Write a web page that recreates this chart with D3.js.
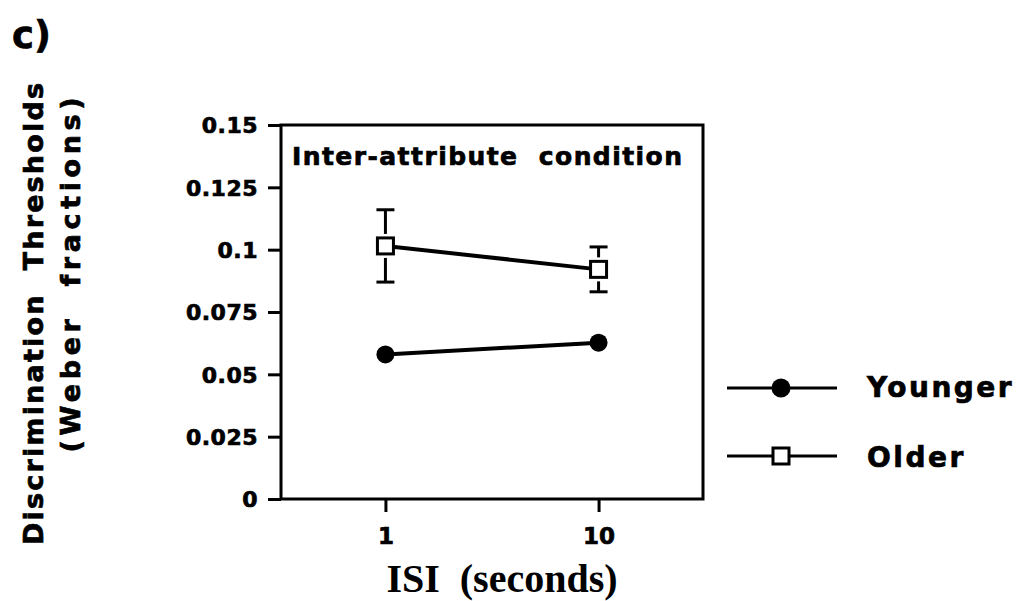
<!DOCTYPE html>
<html>
<head>
<meta charset="utf-8">
<script src="https://cdn.jsdelivr.net/npm/d3@7"></script>
<style>
  html, body { margin: 0; padding: 0; background: #fff; }
  svg { display: block; }
  text { fill: #000; }
  .heavy { stroke: #000; stroke-width: 0.7px; }
</style>
</head>
<body>
<svg id="chart" width="1019" height="601"></svg>
<script>
// ---- data ----
const isiLabels = ["1", "10"];
const youngerValues = [0.058, 0.0627];
const olderValues = [0.1015, 0.0921];
const olderErrors = [0.0145, 0.009];
const yTickValues = [0, 0.025, 0.05, 0.075, 0.1, 0.125, 0.15];
const yTickLabels = ["0", "0.025", "0.05", "0.075", "0.1", "0.125", "0.15"];
const seriesNames = ["Younger", "Older"];

const svg = d3.select("#chart");
const sans = "'DejaVu Sans', Verdana, sans-serif";
const serif = "'Liberation Serif', 'Times New Roman', serif";

const plot = { left: 281, right: 703, top: 125, bottom: 499 };

const x = d3.scalePoint().domain(isiLabels).range([plot.left, plot.right]).padding(0.49);
const y = d3.scaleLinear().domain([0, 0.15]).range([plot.bottom, plot.top]);

// panel label
svg.append("text").attr("class", "heavy").attr("x", 12).attr("y", 48)
  .attr("font-family", sans).attr("font-weight", "bold").attr("font-size", 37)
  .text("c)");

// y axis
const yAxis = svg.append("g").attr("transform", `translate(${plot.left},0)`)
  .call(d3.axisLeft(y).tickValues(yTickValues)
    .tickFormat((d, i) => yTickLabels[i]).tickSize(13).tickPadding(10));
yAxis.select(".domain").remove();
yAxis.selectAll(".tick line").attr("stroke", "#000").attr("stroke-width", 3);
yAxis.selectAll(".tick text").attr("class", "heavy").attr("font-family", sans).attr("font-weight", "bold")
  .attr("font-size", 22).attr("letter-spacing", "0.5px").attr("dy", "0.36em").attr("fill", "#000");

// x axis
const xAxis = svg.append("g").attr("transform", `translate(0,${plot.bottom})`)
  .call(d3.axisBottom(x).tickSize(13).tickPadding(16));
xAxis.select(".domain").remove();
xAxis.selectAll(".tick line").attr("stroke", "#000").attr("stroke-width", 3);
xAxis.selectAll(".tick text").attr("class", "heavy").attr("font-family", sans).attr("font-weight", "bold")
  .attr("font-size", 23).attr("fill", "#000");

// frame
svg.append("rect").attr("x", plot.left).attr("y", plot.top)
  .attr("width", plot.right - plot.left).attr("height", plot.bottom - plot.top)
  .attr("fill", "none").attr("stroke", "#000").attr("stroke-width", 3);

// title inside plot
svg.append("text").attr("class", "heavy").attr("x", 292).attr("y", 165)
  .attr("font-family", sans).attr("font-weight", "bold").attr("font-size", 25)
  .attr("textLength", 390).attr("lengthAdjust", "spacing")
  .attr("xml:space", "preserve")
  .text("Inter-attribute  condition");

// lines
const line = d3.line().x((d, i) => x(isiLabels[i])).y(d => y(d));
svg.append("path").datum(youngerValues).attr("d", line)
  .attr("fill", "none").attr("stroke", "#000").attr("stroke-width", 4);
svg.append("path").datum(olderValues).attr("d", line)
  .attr("fill", "none").attr("stroke", "#000").attr("stroke-width", 4);

// error bars for older
const sq = 16, gap = 4, cap = 18;
const eb = svg.append("g").attr("stroke", "#000").attr("stroke-width", 3);
olderValues.forEach((v, i) => {
  const cx = x(isiLabels[i]);
  const cy = y(v);
  const yt = y(v + olderErrors[i]);
  const yb = y(v - olderErrors[i]);
  eb.append("line").attr("x1", cx).attr("x2", cx).attr("y1", yt).attr("y2", cy - sq / 2 - gap);
  eb.append("line").attr("x1", cx).attr("x2", cx).attr("y1", yb).attr("y2", cy + sq / 2 + gap);
  eb.append("line").attr("x1", cx - cap / 2).attr("x2", cx + cap / 2).attr("y1", yt).attr("y2", yt);
  eb.append("line").attr("x1", cx - cap / 2).attr("x2", cx + cap / 2).attr("y1", yb).attr("y2", yb);
});

// markers
svg.append("g").selectAll("circle").data(youngerValues).join("circle")
  .attr("cx", (d, i) => x(isiLabels[i])).attr("cy", d => y(d)).attr("r", 9).attr("fill", "#000");
svg.append("g").selectAll("rect").data(olderValues).join("rect")
  .attr("x", (d, i) => x(isiLabels[i]) - sq / 2).attr("y", d => y(d) - sq / 2)
  .attr("width", sq).attr("height", sq)
  .attr("fill", "#fff").attr("stroke", "#000").attr("stroke-width", 3);

// y label
svg.append("text").attr("class", "heavy").attr("transform", "translate(43,314) rotate(-90)")
  .attr("text-anchor", "middle").attr("font-family", sans).attr("font-weight", "bold")
  .attr("font-size", 27).attr("textLength", 462).attr("lengthAdjust", "spacing")
  .attr("xml:space", "preserve")
  .text("Discrimination  Thresholds");
svg.append("text").attr("class", "heavy").attr("transform", "translate(80,275) rotate(-90)")
  .attr("text-anchor", "middle").attr("font-family", sans).attr("font-weight", "bold")
  .attr("font-size", 27).attr("textLength", 355).attr("lengthAdjust", "spacing")
  .attr("xml:space", "preserve")
  .text("(Weber  fractions)");

// x label
svg.append("text").attr("x", 502).attr("y", 592)
  .attr("text-anchor", "middle").attr("font-family", serif).attr("font-weight", "bold")
  .attr("font-size", 40).attr("xml:space", "preserve")
  .text("ISI  (seconds)");

// legend
const legY = [388, 456];
const textBase = [397, 467];
const leg = svg.append("g");
seriesNames.forEach((name, i) => {
  leg.append("line").attr("x1", 727).attr("x2", 837).attr("y1", legY[i]).attr("y2", legY[i])
    .attr("stroke", "#000").attr("stroke-width", 3);
  if (i === 0) {
    leg.append("circle").attr("cx", 781).attr("cy", legY[i]).attr("r", 9.5).attr("fill", "#000");
  } else {
    leg.append("rect").attr("x", 781 - sq / 2).attr("y", legY[i] - sq / 2)
      .attr("width", sq).attr("height", sq)
      .attr("fill", "#fff").attr("stroke", "#000").attr("stroke-width", 3);
  }
  leg.append("text").attr("class", "heavy").attr("x", 867).attr("y", textBase[i])
    .attr("font-family", sans).attr("font-weight", "bold").attr("font-size", 28)
    .attr("letter-spacing", "2.5px")
    .text(name);
});
</script>
</body>
</html>
